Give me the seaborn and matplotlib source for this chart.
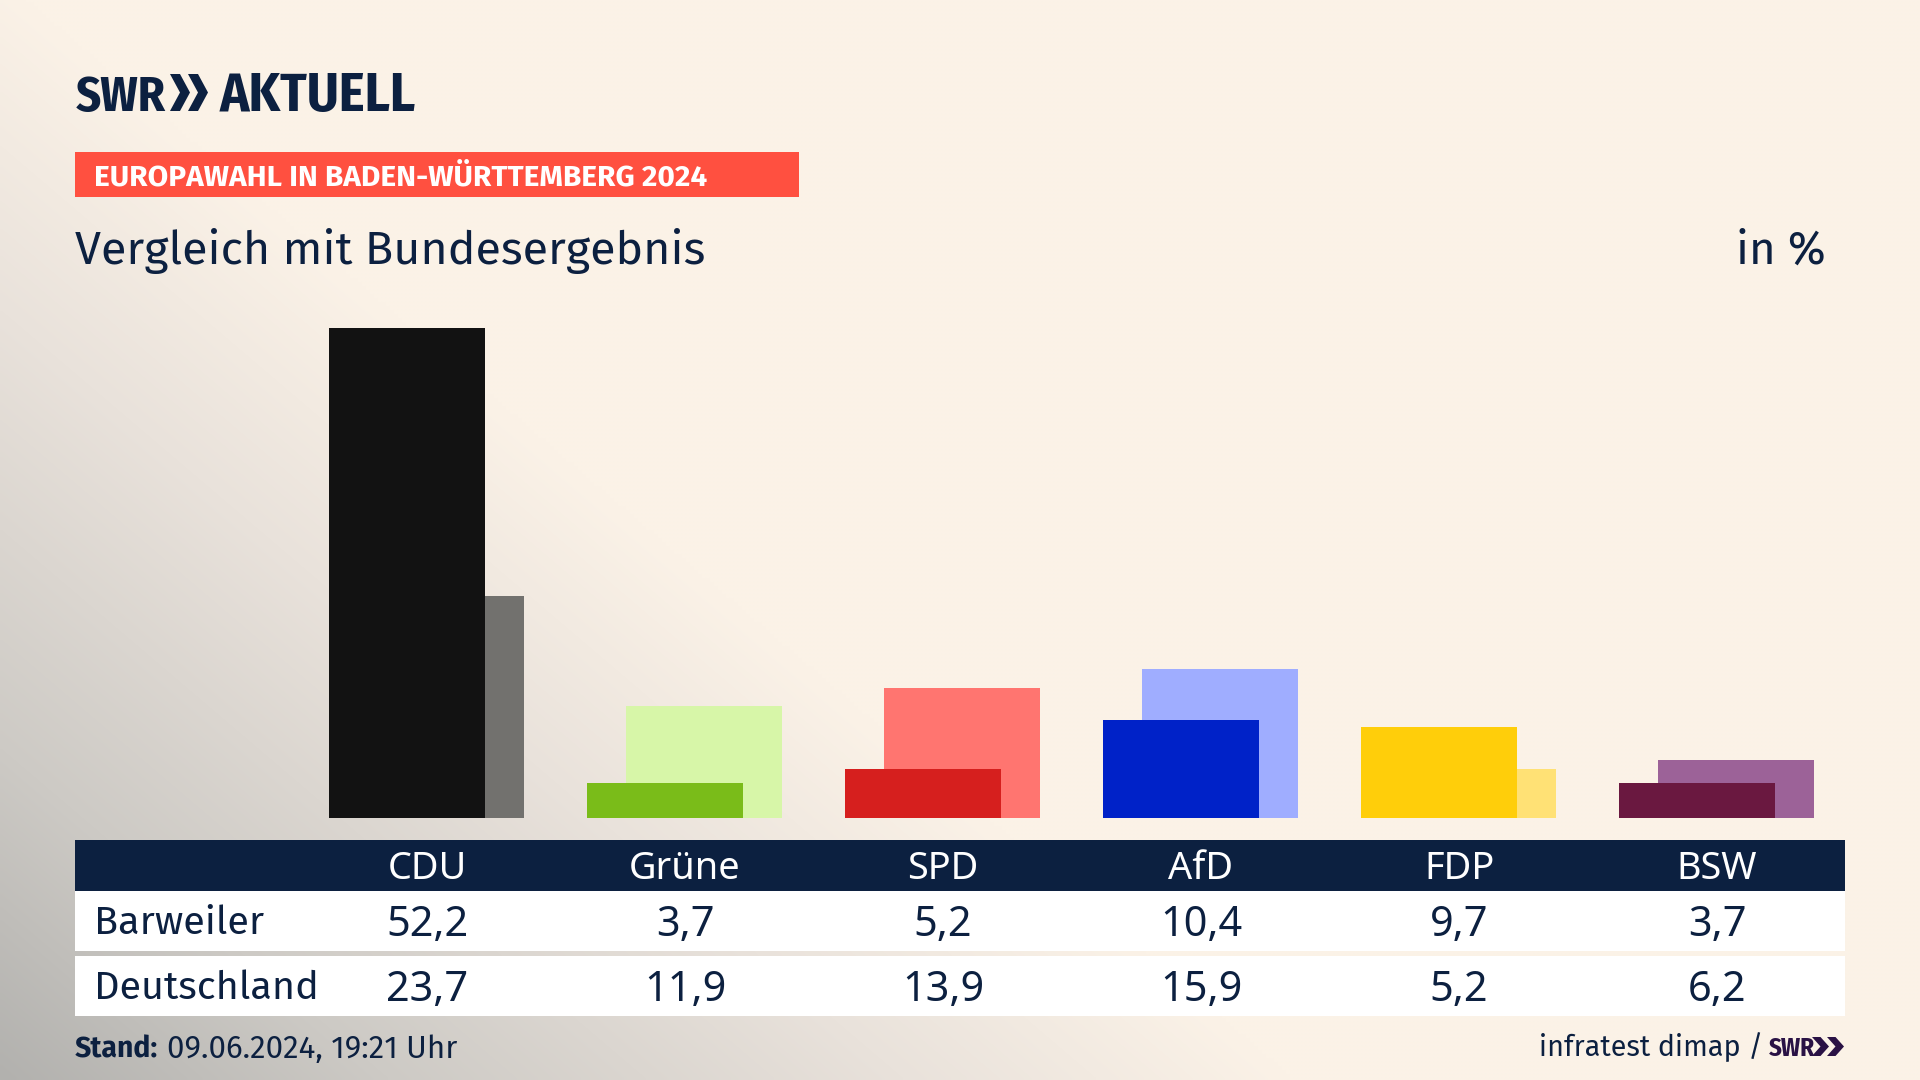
import numpy as np
import pandas as pd
import matplotlib
matplotlib.use("Agg")
import matplotlib.pyplot as plt
from matplotlib.patches import Rectangle, Polygon
import seaborn as sns
import logging
logging.getLogger("matplotlib.font_manager").setLevel(logging.ERROR)

parties = ["CDU", "Grüne", "SPD", "AfD", "FDP", "BSW"]
barweiler = [52.2, 3.7, 5.2, 10.4, 9.7, 3.7]
deutschland = [23.7, 11.9, 13.9, 15.9, 5.2, 6.2]
front_colors = ["#121212", "#7ABC19", "#D61F1E", "#0022C8", "#FFCE0A", "#6A1840"]
back_colors = ["#72716E", "#D7F6A8", "#FF7570", "#9FADFF", "#FFE175", "#9C6298"]
row_names = ["Barweiler", "Deutschland"]
banner = "EUROPAWAHL IN BADEN-WÜRTTEMBERG 2024"
title = "Vergleich mit Bundesergebnis"
unit = "in %"
stand_label = "Stand:"
stand_value = "09.06.2024, 19:21 Uhr"
source = "infratest dimap /"

W, H = 1920, 1080
NAVY = "#0C2040"
sns.set_theme(style="white")
FONT = ["Fira Sans", "Noto Sans", "DejaVu Sans"]
NUM = ["Noto Sans", "DejaVu Sans"]
NARROW = ["Fira Sans Condensed", "Roboto", "DejaVu Sans"]
plt.rcParams["font.family"] = FONT

fig = plt.figure(figsize=(W / 100, H / 100), dpi=100)

# background and page furniture in pixel coordinates
bg = fig.add_axes([0, 0, 1, 1], zorder=0)
bg.axis("off")
yy, xx = np.mgrid[0:H:270j, 0:W:480j]
t = np.clip(xx / 1290 + (H - yy) / 1100, 0, 1)
stops = [0, 0.3, 0.7, 1]
c0 = np.array([[0xB2, 0xB1, 0xAE], [0xCD, 0xCA, 0xC5], [0xE9, 0xE2, 0xDB], [0xFB, 0xF2, 0xE7]]) / 255
img = np.dstack([np.interp(t, stops, c0[:, i]) for i in range(3)])
bg.imshow(img, extent=(0, W, H, 0), aspect="auto", interpolation="bilinear")
bg.set_xlim(0, W)
bg.set_ylim(H, 0)


def rect(x0, y0, x1, y1, color):
    bg.add_patch(Rectangle((x0, y0), x1 - x0, y1 - y0, fc=color, ec="none"))


def chevrons(x, y0, y1, w, step, color):
    ym = (y0 + y1) / 2
    for k in (0, 1):
        a = x + k * step
        bg.add_patch(Polygon([(a, y0), (a + w * 0.5, y0), (a + w, ym), (a + w * 0.5, y1),
                              (a, y1), (a + w * 0.5, ym)], fc=color, ec="none"))


def txt(x, y, s, size, color=NAVY, ha="left", weight="normal", family=None):
    bg.text(x, y, s, fontsize=size, color=color, ha=ha, va="baseline", weight=weight,
            family=family or FONT)


# logo
txt(76, 111, "SWR", 35, weight="bold", family=NARROW)
chevrons(170, 74, 111, 20, 18, NAVY)
txt(220, 111, "AKTUELL", 39.2, weight="bold", family=NARROW)

# banner and title
rect(75, 152, 799, 197, "#FF5040")
txt(94, 185, banner, 21.5, color="#FFFFFF", weight="bold")
txt(75, 264, title, 33.6)
txt(1826, 264, unit, 33, ha="right")

# table
rect(75, 840, 1845, 891, NAVY)
rect(75, 891, 1845, 951, "#FFFFFF")
rect(75, 956, 1845, 1016, "#FFFFFF")
col_x = [427 + 258 * i for i in range(len(parties))]
for cx, p, a, b in zip(col_x, parties, barweiler, deutschland):
    txt(cx, 879, p, 27.3, color="#FFFFFF", ha="center", family=NUM)
    txt(cx, 936, f"{a:.1f}".replace(".", ","), 29.8, ha="center", family=NUM)
    txt(cx, 1001, f"{b:.1f}".replace(".", ","), 29.8, ha="center", family=NUM)
txt(94, 934, row_names[0], 28.5)
txt(94, 999, row_names[1], 28.5)

# footer
txt(75, 1058, stand_label, 20.5, weight="bold")
txt(167, 1058, stand_value, 22.5)
txt(1539, 1056, source, 20.7)
txt(1769, 1056, "SWR", 18, color="#2A1245", weight="bold", family=NARROW)
chevrons(1812, 1037, 1056, 17, 15, "#2A1245")

# bars
PX_PER_UNIT = 490 / 52.2
SPACING = 258
BAR_W = 156
BASE = 818
YMAX = 55
front_left = 329 + BAR_W / 2 - SPACING / 2 + 0.4
offset = 39


def bar_axes(left, zorder):
    ax = fig.add_axes([left / W, (H - BASE) / H, SPACING * 6 / W, YMAX * PX_PER_UNIT / H], zorder=zorder)
    ax.patch.set_alpha(0)
    return ax


df = pd.DataFrame({"party": parties, "Barweiler": barweiler, "Deutschland": deutschland})
ax_back = bar_axes(front_left + offset, 1)
sns.barplot(data=df, x="party", y="Deutschland", hue="party", palette=back_colors, width=BAR_W / SPACING,
            saturation=1, legend=False, ax=ax_back, order=parties, hue_order=parties, linewidth=0, edgecolor="none")
ax_front = bar_axes(front_left, 2)
sns.barplot(data=df, x="party", y="Barweiler", hue="party", palette=front_colors, width=BAR_W / SPACING,
            saturation=1, legend=False, ax=ax_front, order=parties, hue_order=parties, linewidth=0, edgecolor="none")
for ax in (ax_back, ax_front):
    ax.set_xlim(-0.5, 5.5)
    ax.set_ylim(0, YMAX)
    ax.axis("off")

fig.savefig("out.png", dpi=100)
